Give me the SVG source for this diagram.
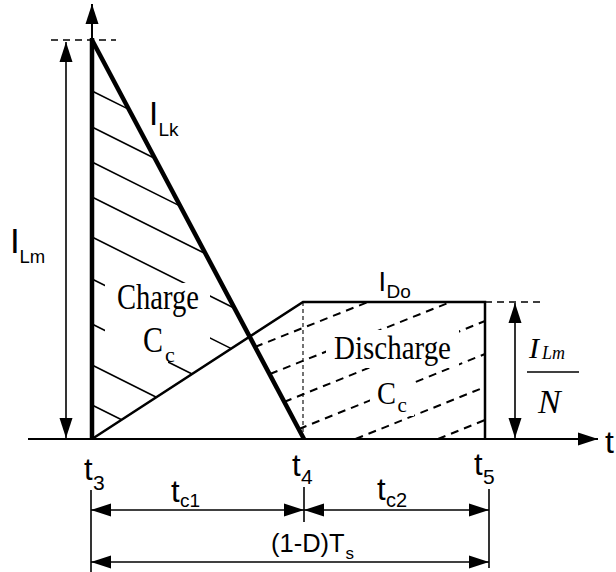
<svg xmlns="http://www.w3.org/2000/svg" width="616" height="572" viewBox="0 0 616 572">
<style>
.ln{stroke:#000;fill:none;stroke-linecap:butt}
.thick{stroke-width:4.5}
.med{stroke-width:2.5}
.thin{stroke-width:1.6}
.dash{stroke-dasharray:7 5;stroke-width:1.6}
.hd{stroke-dasharray:8 6;stroke-width:2}
.vd{stroke-dasharray:4 3;stroke-width:1.1}
.sans{font-family:"Liberation Sans",Arial,sans-serif;fill:#000}
.serif{font-family:"Liberation Serif","Times New Roman",serif;fill:#000}
.it{font-style:italic}
</style>
<defs>
<marker id="ah" markerUnits="userSpaceOnUse" markerWidth="20" markerHeight="14" refX="20" refY="7" orient="auto-start-reverse">
<path d="M0,0.5 L20,7 L0,13.5 z" fill="#000"/>
</marker>
<mask id="mC" maskUnits="userSpaceOnUse" x="0" y="0" width="616" height="572">
<rect x="0" y="0" width="616" height="572" fill="#fff"/>
<rect x="105" y="283" width="105" height="56" fill="#000"/>
<rect x="105" y="330" width="63" height="35" fill="#000"/>
</mask>
<mask id="mD" maskUnits="userSpaceOnUse" x="0" y="0" width="616" height="572">
<rect x="0" y="0" width="616" height="572" fill="#fff"/>
<rect x="326" y="330" width="133" height="38" fill="#000"/>
<rect x="370" y="375" width="44" height="41" fill="#000"/>
</mask>
</defs>
<rect width="616" height="572" fill="#fff"/>

<g id="axes">
<line class="ln" x1="28" y1="439" x2="598" y2="439" stroke-width="2" marker-end="url(#ah)"/>
<line class="ln" x1="92" y1="40" x2="92" y2="4" stroke-width="2" marker-end="url(#ah)"/>
<text class="sans" x="605" y="453" font-size="32">t</text>
</g>

<g id="charge-hatch" mask="url(#mC)">
<path class="ln thin" d="M92,91 L128.9,109.4 M92,127 L155,158.5 M92,162 L180.3,206.1 M92,197 L205.6,253.8 M92,237 L234.5,308.3 M92,279 L231.3,348.6 M92,324 L192.1,374 M92,365 L156.4,397.2 M92,405 L121.6,419.8"/>
</g>

<g id="discharge-hatch" mask="url(#mD)">
<path class="ln hd" d="M255,347 L368,302 M270,374 L450.5,302 M284,402 L485,321 M299,429 L485,354 M355.5,439 L485,387 M438,439 L485,420"/>
</g>

<g id="waveforms">
<line class="ln vd" x1="303" y1="302" x2="303" y2="439"/>
<line class="ln dash" x1="51" y1="40" x2="116" y2="40"/>
<line class="ln dash" x1="485" y1="302" x2="540" y2="302"/>
<polyline class="ln med" points="92,439 303,302 485,302 485,439"/>
<line class="ln thick" x1="92" y1="439" x2="92" y2="38"/>
<line class="ln thick" x1="92" y1="40" x2="304" y2="439"/>
</g>

<g id="ILm-arrow">
<line class="ln thin" x1="66" y1="42" x2="66" y2="438" marker-start="url(#ah)" marker-end="url(#ah)"/>
<text class="sans" x="10" y="253" font-size="35">I<tspan x="19.5" y="263" font-size="18.5">Lm</tspan></text>
</g>

<g id="ILk-label">
<text class="sans" x="149" y="125" font-size="33">I<tspan x="158.5" y="136" font-size="19">Lk</tspan></text>
</g>

<g id="IDo-label">
<text class="sans" x="378.5" y="291" font-size="27">I<tspan x="386.5" y="298" font-size="19">Do</tspan></text>
</g>

<g id="charge-label">
<text class="serif" x="117" y="309" font-size="36" textLength="82" lengthAdjust="spacingAndGlyphs">Charge</text>
<text class="serif" x="143" y="352" font-size="35" textLength="20" lengthAdjust="spacingAndGlyphs">C</text>
<text class="serif" x="165" y="362" font-size="22">c</text>
</g>

<g id="discharge-label">
<text class="serif" x="334" y="359" font-size="33" textLength="117" lengthAdjust="spacingAndGlyphs">Discharge</text>
<text class="serif" x="377" y="404" font-size="31" textLength="19" lengthAdjust="spacingAndGlyphs">C</text>
<text class="serif" x="397.5" y="412" font-size="21">c</text>
</g>

<g id="ILmN">
<line class="ln thin" x1="515" y1="303" x2="515" y2="438" marker-start="url(#ah)" marker-end="url(#ah)"/>
<text class="serif it" x="529" y="358" font-size="30">I<tspan x="542" y="359" font-size="18">Lm</tspan></text>
<line class="ln" x1="527" y1="372" x2="579" y2="372" stroke-width="1.6"/>
<text class="serif it" x="538" y="413" font-size="34">N</text>
</g>

<g id="time-labels">
<text class="sans" x="84" y="480" font-size="31">t<tspan x="93" y="490" font-size="21">3</tspan></text>
<text class="sans" x="292" y="476" font-size="31">t<tspan x="301" y="484" font-size="21">4</tspan></text>
<text class="sans" x="474" y="475" font-size="31">t<tspan x="483" y="484" font-size="21">5</tspan></text>
</g>

<g id="dimensions">
<line class="ln thin" x1="91" y1="490" x2="91" y2="572"/>
<line class="ln thin" x1="304" y1="487" x2="304" y2="522"/>
<line class="ln thin" x1="489" y1="489" x2="489" y2="568"/>
<line class="ln thin" x1="91" y1="510" x2="304" y2="510" marker-start="url(#ah)" marker-end="url(#ah)"/>
<line class="ln thin" x1="304" y1="510" x2="489" y2="510" marker-start="url(#ah)" marker-end="url(#ah)"/>
<line class="ln thin" x1="91" y1="562" x2="489" y2="562" marker-start="url(#ah)" marker-end="url(#ah)"/>
<text class="sans" x="171" y="502" font-size="31">t<tspan x="180" y="507" font-size="19">c1</tspan></text>
<text class="sans" x="377" y="500" font-size="31">t<tspan x="386" y="507" font-size="20">c2</tspan></text>
<text class="sans" x="271" y="552" font-size="25.5">(1-D)T<tspan x="345.5" y="559" font-size="17">s</tspan></text>
</g>
</svg>
